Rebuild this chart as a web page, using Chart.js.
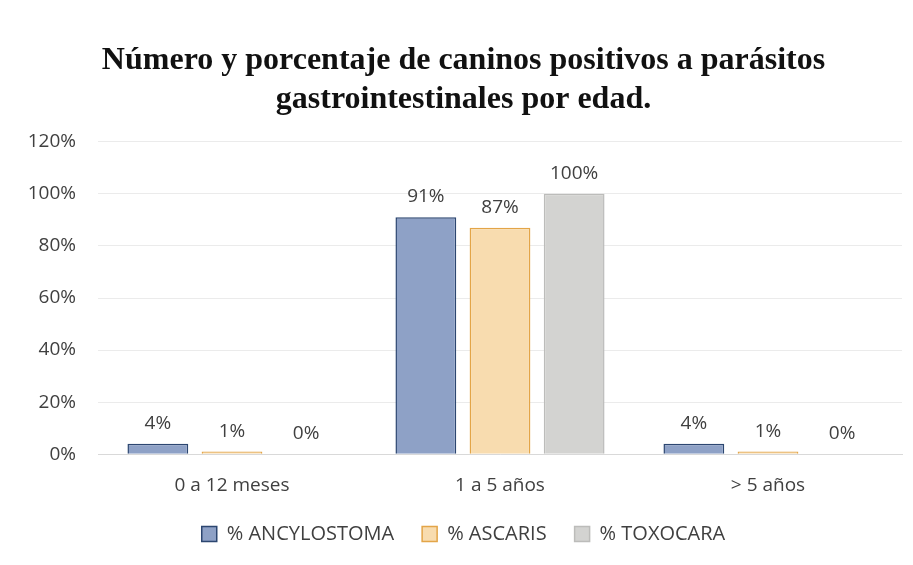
<!DOCTYPE html>
<html>
<head>
<meta charset="utf-8">
<script src="https://cdn.jsdelivr.net/npm/chart.js@4"></script>
<style>
  html, body { margin: 0; padding: 0; background: #fff; }
  #wrap { width: 913px; height: 565px; }
</style>
</head>
<body>
<div id="wrap"><canvas id="chart" width="913" height="565"></canvas></div>
<script>
const categories = ['0 a 12 meses', '1 a 5 años', '> 5 años'];
const ancylostoma = [4, 91, 4];
const ascaris = [1, 87, 1];
const toxocara = [0, 100, 0];
const yTicks = [0, 20, 40, 60, 80, 100, 120];

// draws the value above each bar
const valueLabels = {
  id: 'valueLabels',
  afterDatasetsDraw(chart) {
    const ctx = chart.ctx;
    ctx.save();
    ctx.font = '19px "Open Sans"';
    ctx.fillStyle = '#404040';
    ctx.textAlign = 'center';
    ctx.textBaseline = 'alphabetic';
    chart.data.datasets.forEach((ds, i) => {
      chart.getDatasetMeta(i).data.forEach((bar, j) => {
        ctx.fillText(ds.data[j] + '%', bar.x, bar.y - 15);
      });
    });
    ctx.restore();
  }
};

new Chart(document.getElementById('chart'), {
  type: 'bar',
  data: {
    labels: categories,
    datasets: [
      {
        label: '% ANCYLOSTOMA',
        data: ancylostoma,
        backgroundColor: '#8ea1c6',
        borderColor: '#2c4670',
        borderWidth: 1.5
      },
      {
        label: '% ASCARIS',
        data: ascaris,
        backgroundColor: '#f8dcaf',
        borderColor: '#e3a548',
        borderWidth: 1.5
      },
      {
        label: '% TOXOCARA',
        data: toxocara,
        backgroundColor: '#d3d3d1',
        borderColor: '#bcbcba',
        borderWidth: 1.5
      }
    ]
  },
  options: {
    responsive: false,
    animation: false,
    layout: { padding: { left: 25, right: 11, top: 10, bottom: 11 } },
    datasets: {
      bar: { categoryPercentage: 0.83, barPercentage: 0.82 }
    },
    plugins: {
      title: {
        display: true,
        text: ['Número y porcentaje de caninos positivos a parásitos', 'gastrointestinales por edad.'],
        font: { family: '"Liberation Serif", "Times New Roman", serif', size: 32, weight: 'bold' },
        color: '#111',
        lineHeight: 1.16,
        padding: { top: 32, bottom: 23 }
      },
      legend: {
        position: 'bottom',
        labels: {
          font: { family: '"Open Sans"', size: 20 },
          color: '#404040',
          boxWidth: 15,
          boxHeight: 15,
          padding: 28
        }
      },
      tooltip: { enabled: false }
    },
    scales: {
      x: {
        grid: { display: false },
        border: { color: '#d9d9d9' },
        ticks: { font: { family: '"Open Sans"', size: 19 }, color: '#404040', padding: 12 },
        afterFit(axis) {
          axis.height = axis.height - 13;
        }
      },
      y: {
        min: 0,
        max: 120,
        afterBuildTicks(axis) {
          axis.ticks = yTicks.map(v => ({ value: v }));
        },
        afterFit(axis) {
          axis.width = 73;
        },
        grid: { color: '#ebebeb', drawTicks: false },
        border: { display: false },
        ticks: {
          font: { family: '"Open Sans"', size: 19 },
          color: '#404040',
          padding: 22,
          callback: v => v + '%'
        }
      }
    }
  },
  plugins: [valueLabels]
});
</script>
</body>
</html>
